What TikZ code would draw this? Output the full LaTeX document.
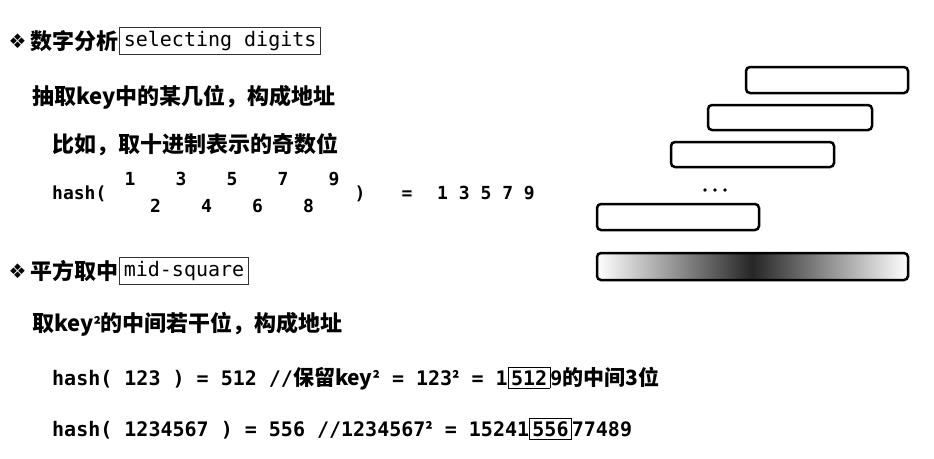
\documentclass[tikz,border=0pt]{standalone}
\usepackage{fontspec}
\setmainfont{Noto Sans CJK SC}
\setmonofont{DejaVu Sans Mono}
\newfontfamily\symfont{DejaVu Sans}
\usepackage{xcolor}
\usetikzlibrary{positioning}

\newcommand{\zh}[1]{{\rmfamily\bfseries\fontsize{21}{25}\selectfont #1}}
\newcommand{\sqr}{{\rmfamily\bfseries\fontsize{17}{20}\selectfont ²}}
\newcommand{\midbox}[1]{{\setlength{\fboxsep}{2.5pt}\setlength{\fboxrule}{0.8pt}\fbox{#1}}}

\begin{document}
\begin{tikzpicture}[x=1pt,y=-1pt,
	bullet/.style={inner sep=0pt,font=\symfont\fontsize{20}{22}\selectfont},
	title/.style={anchor=west,inner sep=0pt,font=\fontsize{22}{26}\selectfont\bfseries},
	tag/.style={draw=black!80,line width=0.8pt,inner xsep=4pt,inner ysep=4pt,font=\fontsize{20}{24}\ttfamily},
	hashtxt/.style={anchor=base,inner sep=0pt,font=\fontsize{18}{22}\ttfamily\bfseries},
	hashline/.style={anchor=base west,inner sep=0pt,font=\fontsize{20}{24}\ttfamily\bfseries},
	slot/.style={line width=2.5pt,rounded corners=4pt}]
	\useasboundingbox (0,0) rectangle (934,458);
	% selecting digits
	\node[bullet] (b1) at (17.5,41.5) {❖};
	\node[title] (sel) at (30,41) {数字分析};
	\node[tag,right=1pt of sel] (seltag) {selecting digits};
	\node[title] (sel1) at (32,97) {抽取key中的某几位，构成地址};
	\node[title] (sel2) at (52,145) {比如，取十进制表示的奇数位};
	\node[hashtxt,anchor=base west] (hash1) at (52,199) {hash(};
	\foreach \d in {1,...,9} {
		\pgfmathsetmacro\yy{mod(\d,2)==1 ? 185 : 212}
		\node[hashtxt] (d\d) at ({130+(\d-1)*25.5},\yy) {\d};
	}
	\node[hashtxt] (rpar) at (360,199) {)};
	\node[hashtxt] (eq) at (407,199) {=};
	\node[hashtxt] (odd) at (486,199) {1 3 5 7 9};
	% mid-square
	\node[bullet] (b2) at (17.5,271.5) {❖};
	\node[title] (mid) at (30,271) {平方取中};
	\node[tag,right=1pt of mid] (midtag) {mid-square};
	\node[title] (mid1) at (32,324) {取key\sqr 的中间若干位，构成地址};
	\node[hashline] (hash2) at (52,385) {hash( 123 ) = 512 //\zh{保留key}\sqr{} = 123\sqr{} = 1\midbox{512}9\zh{的中间3位}};
	\node[hashline] (hash3) at (52,436) {hash( 1234567 ) = 556 //1234567\sqr{} = 15241\midbox{556}77489};
	% slots
	\draw[slot] (746,67) rectangle (908,93);
	\draw[slot] (708,105) rectangle (872,130);
	\draw[slot] (671,142) rectangle (834,167);
	\foreach \x in {705,715,725} \fill (\x,190) circle (1.8pt);
	\draw[slot] (597,204) rectangle (759,230);
	\shadedraw[slot,left color=white,right color=white,middle color=black!85] (597,253) rectangle (908,280);
\end{tikzpicture}
\end{document}
